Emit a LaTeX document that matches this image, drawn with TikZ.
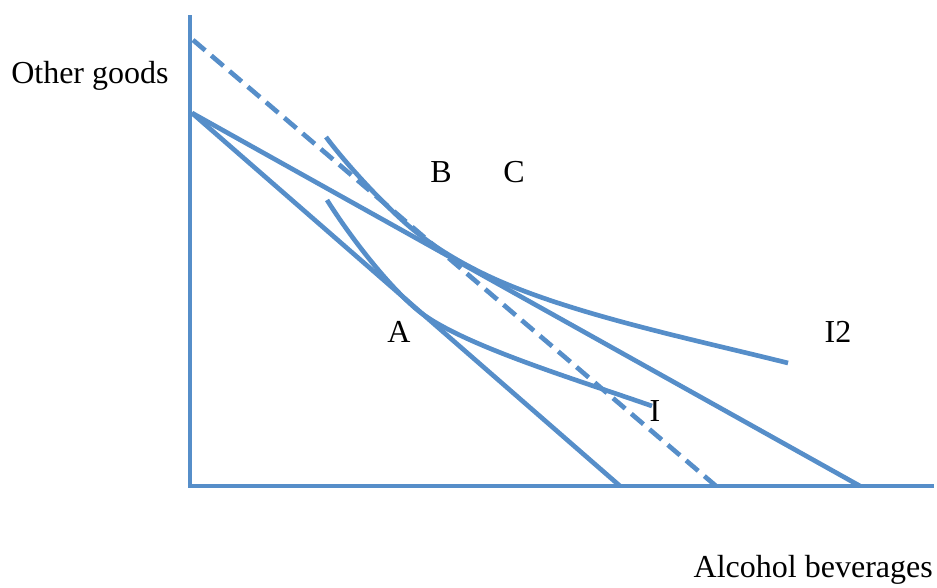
\documentclass[tikz,border=0pt]{standalone}
\usepackage{fontspec}
\setmainfont{Liberation Serif}
\definecolor{lineblue}{RGB}{86,142,201}
\begin{document}
\begin{tikzpicture}[x=0.75pt,y=-0.75pt,
  ln/.style={draw=lineblue,line width=3.5pt},
  dashln/.style={ln,dash pattern=on 12pt off 6pt},
  lbl/.style={font=\fontsize{24}{28}\selectfont,inner sep=0pt,anchor=base}]
\useasboundingbox (0,0) rectangle (937,587);
% axis points
\coordinate (ytop) at (190,15);
\coordinate (orig) at (190,486);
\coordinate (xend) at (934,486);
\coordinate (bstart) at (192,113);
\coordinate (dstart) at (193,40);
\coordinate (binner) at (620,486);
\coordinate (bdash) at (716,486);
\coordinate (bouter) at (860,486);
% curve points
\coordinate (i1s) at (327,200);
\coordinate (i1t) at (415,308);
\coordinate (i1e) at (652,406);
\coordinate (i2s) at (326,137);
\coordinate (i2t) at (410,227);
\coordinate (i2m) at (480,272);
\coordinate (i2e) at (788,363);
% axes
\draw[ln] (ytop) -- (orig) -- (xend);
% budget lines
\draw[dashln] (dstart) -- (bdash);
\draw[ln] (bstart) -- (binner);
\draw[ln] (bstart) -- (bouter);
% indifference curves
\draw[ln] (i1s) .. controls (349,235) and (385,282) .. (i1t)
  .. controls (455,343) and (572,378) .. (i1e);
\draw[ln] (i2s) .. controls (346,164) and (385,206) .. (i2t)
  .. controls (433,246.6) and (457,260.5) .. (i2m)
  .. controls (560,312) and (690,338.5) .. (i2e);
% labels
\node[lbl,anchor=base west] (yl) at (11,83) {Other goods};
\node[lbl,anchor=base east] (xl) at (933,577) {Alcohol beverages};
\node[lbl] (B) at (441,182) {B};
\node[lbl] (C) at (514,182) {C};
\node[lbl] (A) at (399,342) {A};
\node[lbl] (I) at (655,421) {I};
\node[lbl] (I2) at (838,342) {I2};
\end{tikzpicture}
\end{document}
